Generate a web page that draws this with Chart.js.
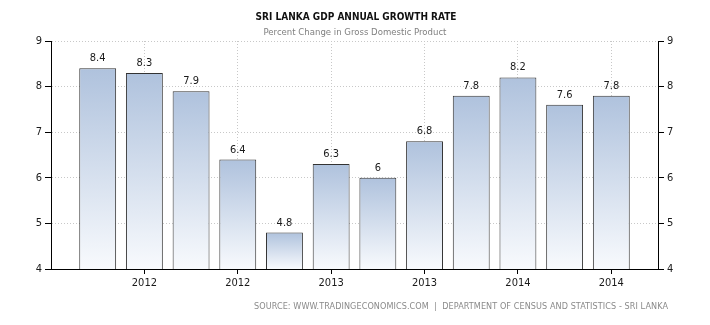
<!DOCTYPE html>
<html>
<head>
<meta charset="utf-8">
<script src="https://cdn.jsdelivr.net/npm/chart.js@4.4.1/dist/chart.umd.min.js"></script>
<style>
    html, body { margin: 0; padding: 0; background: #fff; }
    #wrap { width: 710px; height: 325px; }
</style>
</head>
<body>
<div id="wrap"><canvas id="gdpChart" width="710" height="325"></canvas></div>
<script>
// quarterly growth, one bar per quarter
const growthValues = [8.4, 8.3, 7.9, 6.4, 4.8, 6.3, 6, 6.8, 7.8, 8.2, 7.6, 7.8];
// labels printed under the axis (only every other bar carries one)
const tickLabels = ['', '2012', '', '2012', '', '2013', '', '2013', '', '2014', '', '2014'];
const yTicks = [4, 5, 6, 7, 8, 9];

const titleText = 'SRI LANKA GDP ANNUAL GROWTH RATE';
const subtitleText = 'Percent Change in Gross Domestic Product';
const sourceText = 'SOURCE: WWW.TRADINGECONOMICS.COM  |  DEPARTMENT OF CENSUS AND STATISTICS - SRI LANKA';

(function () {
    const canvas = document.getElementById('gdpChart');
    const fontFamily = '"DejaVu Sans Condensed", "DejaVu Sans", sans-serif';

    // pad with an empty slot each side so bars sit half a step in from the axes
    const labels = [' ', ...tickLabels, ' '];
    const data = [null, ...growthValues, null];

    const hasLabel = (i) => labels[i] && labels[i].trim() !== '';

    const barFill = (ctx) => {
        const chart = ctx.chart;
        const area = chart.chartArea;
        const v = ctx.raw;
        if (!area || v == null) return '#c4d2e6';
        const top = chart.scales.y.getPixelForValue(v);
        const g = chart.ctx.createLinearGradient(0, top, 0, area.bottom);
        g.addColorStop(0, '#afc2dd');
        g.addColorStop(1, '#f8fafd');
        return g;
    };

    const textPlugin = {
        id: 'textPlugin',
        afterDatasetsDraw(chart) {
            const c = chart.ctx;
            const meta = chart.getDatasetMeta(0);
            c.save();
            c.fillStyle = '#1a1a1a';
            c.font = '11px ' + fontFamily;
            c.textAlign = 'center';
            c.textBaseline = 'alphabetic';
            meta.data.forEach((el, i) => {
                const v = data[i];
                if (v == null) return;
                c.fillText(String(v), el.x, el.y - 7);
            });
            c.restore();
        },
        afterDraw(chart) {
            const c = chart.ctx;
            c.save();
            c.textBaseline = 'middle';
            c.textAlign = 'center';
            c.fillStyle = '#111';
            c.font = 'bold 11px ' + fontFamily;
            c.fillText(titleText, 356, 17, 201);
            c.fillStyle = '#808080';
            c.font = '9.5px ' + fontFamily;
            c.fillText(subtitleText, 355, 33);
            c.textAlign = 'right';
            c.fillStyle = '#8a8a8a';
            c.font = '9px ' + fontFamily;
            c.letterSpacing = '0.08px';
            c.fillText(sourceText, 668, 307);
            c.restore();
        }
    };

    const yCommon = {
        min: 4,
        max: 9,
        afterBuildTicks: (scale) => {
            scale.ticks = yTicks.map((v) => ({ value: v }));
        },
        ticks: {
            color: '#1a1a1a',
            font: { family: fontFamily, size: 11 },
            padding: 3,
        },
    };

    new Chart(canvas, {
        type: 'bar',
        data: {
            labels: labels,
            datasets: [
                {
                    data: data,
                    backgroundColor: barFill,
                    borderColor: '#333',
                    borderWidth: 1,
                    borderSkipped: 'bottom',
                    barPercentage: 0.79,
                    categoryPercentage: 1,
                },
            ],
        },
        options: {
            responsive: false,
            animation: false,
            layout: { padding: { top: 41, left: 0, right: 0, bottom: 0 } },
            plugins: {
                legend: { display: false },
                tooltip: { enabled: false },
                title: { display: false },
            },
            scales: {
                x: {
                    offset: false,
                    afterFit: (scale) => { scale.height = 56; },
                    border: { display: true, color: '#000', width: 1, dash: [1, 2] },
                    grid: {
                        offset: false,
                        color: (ctx) => (hasLabel(ctx.index) ? '#c8c8c8' : 'rgba(0,0,0,0)'),
                        tickColor: (ctx) => (hasLabel(ctx.index) ? '#000' : 'rgba(0,0,0,0)'),
                        tickBorderDash: [],
                        tickLength: 5,
                    },
                    ticks: {
                        autoSkip: false,
                        maxRotation: 0,
                        color: '#1a1a1a',
                        font: { family: fontFamily, size: 11 },
                        padding: 3,
                    },
                },
                y: {
                    ...yCommon,
                    position: 'left',
                    afterFit: (scale) => { scale.width = 51; },
                    border: { display: true, color: '#000', width: 1, dash: [1, 2] },
                    grid: {
                        color: '#c8c8c8',
                        tickColor: '#000',
                        tickBorderDash: [],
                        tickLength: 6,
                    },
                },
                y2: {
                    ...yCommon,
                    position: 'right',
                    afterFit: (scale) => { scale.width = 52; },
                    border: { display: true, color: '#000', width: 1 },
                    grid: {
                        drawOnChartArea: false,
                        tickColor: '#000',
                        tickLength: 6,
                    },
                },
            },
        },
        plugins: [textPlugin],
    });
})();
</script>
</body>
</html>
